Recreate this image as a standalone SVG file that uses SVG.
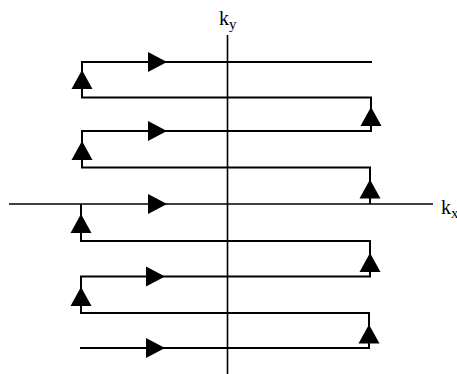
<svg xmlns="http://www.w3.org/2000/svg" xmlns:xlink="http://www.w3.org/1999/xlink" width="457" height="374" viewBox="0 0 457 374">
<style>
.ax{stroke:#000;stroke-width:1.6;fill:none}
.tr{stroke:#000;stroke-width:2;fill:none;stroke-linejoin:miter}
.lbl{font-family:"Liberation Serif","Times New Roman",serif;fill:#000}
</style>
<defs>
<path id="ar" d="M0,0 L-19,-10 L-19,10 Z" fill="#000"/>
<path id="au" d="M0,0 L10.5,19 L-10.5,19 Z" fill="#000"/>
</defs>
<rect width="457" height="374" fill="#fff"/>
<g id="axes">
<line class="ax" x1="227.5" y1="35" x2="227.5" y2="374"/>
<line class="ax" x1="9" y1="204" x2="433" y2="204"/>
</g>
<g id="labels">
<text class="lbl" x="219" y="25" font-size="20">k<tspan font-size="15" dy="4">y</tspan></text>
<text class="lbl" x="441" y="214" font-size="20">k<tspan font-size="15" dy="4">x</tspan></text>
</g>
<g id="connectors">
<path class="tr" d="M372,62 H82 V97.5 H371 V131 H82 V167.5 H370 V204 M81,204 V241 H370 V276.5 H81 V313 H369 V348 H80"/>
<use xlink:href="#ar" x="167" y="62"/>
<use xlink:href="#ar" x="167" y="131"/>
<use xlink:href="#ar" x="167" y="204"/>
<use xlink:href="#ar" x="165" y="276.5"/>
<use xlink:href="#ar" x="165" y="348"/>
<use xlink:href="#au" x="82" y="70"/>
<use xlink:href="#au" x="82" y="141"/>
<use xlink:href="#au" x="81" y="214"/>
<use xlink:href="#au" x="81" y="287"/>
<use xlink:href="#au" x="371" y="107"/>
<use xlink:href="#au" x="370" y="179.5"/>
<use xlink:href="#au" x="370" y="253"/>
<use xlink:href="#au" x="369" y="324.5"/>
</g>
</svg>
